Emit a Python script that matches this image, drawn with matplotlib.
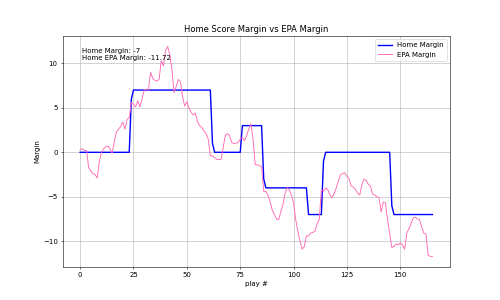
import matplotlib
matplotlib.use("Agg")
import numpy as np
import matplotlib.pyplot as plt

# home score margin after each play (0..165)
home_margin = [
    0, 0, 0, 0, 0, 0, 0, 0, 0, 0, 0, 0, 0, 0, 0, 0, 0, 0, 0, 0,
    0, 0, 0, 0, 6, 7, 7, 7, 7, 7, 7, 7, 7, 7, 7, 7, 7, 7, 7, 7,
    7, 7, 7, 7, 7, 7, 7, 7, 7, 7, 7, 7, 7, 7, 7, 7, 7, 7, 7, 7,
    7, 7, 1, 0, 0, 0, 0, 0, 0, 0, 0, 0, 0, 0, 0, 0, 3, 3, 3, 3,
    3, 3, 3, 3, 3, 3, -3, -4, -4, -4, -4, -4, -4, -4, -4, -4, -4, -4, -4, -4,
    -4, -4, -4, -4, -4, -4, -4, -7, -7, -7, -7, -7, -7, -7, -1, 0, 0, 0, 0, 0,
    0, 0, 0, 0, 0, 0, 0, 0, 0, 0, 0, 0, 0, 0, 0, 0, 0, 0, 0, 0,
    0, 0, 0, 0, 0, 0, -6, -7, -7, -7, -7, -7, -7, -7, -7, -7, -7, -7, -7, -7,
    -7, -7, -7, -7, -7, -7,
]

# home EPA margin after each play (0..165)
epa_margin = [
    0.3, 0.4, 0.2, 0.2, -1.7, -2.1, -2.4, -2.5, -2.9, -1.0,
    0.0, 0.4, 0.6, 0.7, 0.4, -0.1, 1.2, 2.3, 2.6, 2.9,
    3.4, 2.6, 3.7, 3.9, 5.6, 5.4, 5.1, 5.8, 5.1, 6.0,
    7.0, 7.1, 7.0, 9.0, 8.3, 8.1, 8.0, 8.2, 10.3, 9.7,
    11.4, 11.9, 11.0, 9.3, 6.7, 7.4, 8.2, 7.9, 6.2, 5.2,
    5.7, 5.0, 4.5, 4.2, 4.4, 3.4, 3.0, 2.8, 2.4, 2.1,
    1.5, -0.4, -0.4, -0.6, -0.8, -0.8, -0.8, 0.5, 1.9, 2.1,
    1.9, 1.1, 1.0, 1.0, 1.1, 1.5, 1.7, 1.3, 1.9, 2.6,
    3.2, 1.5, -1.4, -1.4, -1.5, -1.6, -4.4, -4.4, -4.8, -5.6,
    -6.5, -7.0, -7.5, -7.6, -6.7, -5.9, -4.6, -4.0, -4.2, -4.8,
    -5.7, -7.6, -8.9, -10.0, -10.9, -10.6, -9.4, -9.4, -9.1, -9.0,
    -8.9, -8.0, -7.6, -4.2, -4.4, -4.0, -4.2, -4.8, -5.1, -4.6,
    -4.0, -3.2, -2.5, -2.4, -2.3, -2.7, -3.0, -3.8, -3.9, -4.2,
    -4.6, -4.8, -3.6, -3.0, -3.2, -3.6, -3.8, -4.7, -4.8, -5.0,
    -5.1, -6.7, -5.6, -5.7, -7.6, -9.1, -10.7, -10.6, -10.3, -10.4,
    -10.2, -10.4, -10.9, -9.1, -8.6, -8.0, -7.4, -7.3, -7.5, -7.6,
    -8.4, -9.1, -9.2, -11.6, -11.7, -11.72,
]

plays = np.arange(len(home_margin))

fig, ax = plt.subplots(figsize=(10, 6), dpi=50)

ax.plot(plays, home_margin, color='blue', linewidth=2, label='Home Margin')
ax.plot(plays, epa_margin, color='hotpink', linewidth=1.3, label='EPA Margin')

ax.set_title('Home Score Margin vs EPA Margin')
ax.set_xlabel('play #')
ax.set_ylabel('Margin')
ax.grid(True)
ax.legend(loc='upper right')

ax.text(0.05, 0.95, f"Home Margin: {home_margin[-1]}\nHome EPA Margin: {epa_margin[-1]}",
        transform=ax.transAxes, va='top', ha='left')

fig.savefig('out.png', dpi=50)
